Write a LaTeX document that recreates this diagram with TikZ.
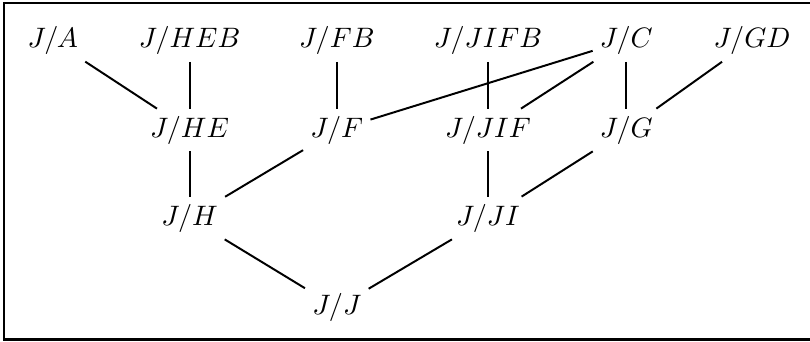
\documentclass[tikz,border=0pt]{standalone}
\usepackage{amssymb}
\usepackage{amsmath}
\usepackage{tikz}
\usetikzlibrary{calc}

\begin{document}
\begin{tikzpicture}
\tikzstyle{q} = [inner sep=2.6pt, outer sep=0pt]
\tikzstyle{edge} = [line width=0.7pt]
\tikzstyle{frame} = [line width=0.8pt]

\useasboundingbox (0,0) rectangle (10.125,4.275);
\draw[frame] (10.125,4.24) -- (0.05,4.24) -- (0.05,0.03) -- (10.125,0.03);

\begin{scope}
\draw(0.66,3.77) node[q]   (jA)    {$J/A$};
\draw(2.37,3.77) node[q]   (jHEB)  {$J/HEB$};
\draw(4.21,3.77) node[q]   (jFB)   {$J/FB$};
\draw(6.10,3.77) node[q]   (jJIFB) {$J/JIFB$};
\draw(7.83,3.77) node[q]   (jC)    {$J/C$};
\draw(9.40,3.77) node[q]   (jGD)   {$J/GD$};
\draw(2.37,2.65) node[q]   (jHE)   {$J/HE$};
\draw(4.21,2.65) node[q]   (jF)    {$J/F$};
\draw(6.10,2.65) node[q]   (jJIF)  {$J/JIF$};
\draw(7.83,2.65) node[q]   (jG)    {$J/G$};
\draw(2.37,1.55) node[q]   (jH)    {$J/H$};
\draw(6.10,1.55) node[q]   (jJI)   {$J/JI$};
\draw(4.21,0.43) node[q]   (jJ)    {$J/J$};

\draw[edge] (jA) -- (jHE);
\draw[edge] (jHEB) -- (jHE);
\draw[edge] (jFB) -- (jF);
\draw[edge] (jC) -- (jF);
\draw[edge] (jJIFB) -- (jJIF);
\draw[edge] (jC) -- (jJIF);
\draw[edge] (jC) -- (jG);
\draw[edge] (jGD) -- (jG);
\draw[edge] (jHE) -- (jH);
\draw[edge] (jF) -- (jH);
\draw[edge] (jJIF) -- (jJI);
\draw[edge] (jG) -- (jJI);
\draw[edge] (jH) -- (jJ);
\draw[edge] (jJI) -- (jJ);
\end{scope}
\end{tikzpicture}
\end{document}
